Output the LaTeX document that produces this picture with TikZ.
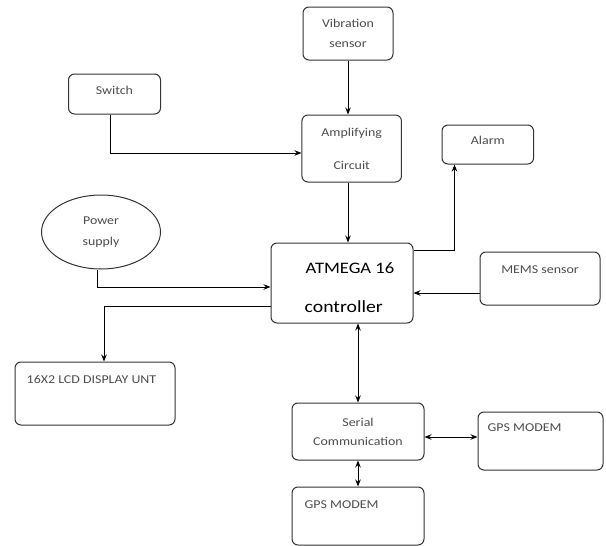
\documentclass[tikz,border=0pt]{standalone}
\usepackage{fontspec}
\setmainfont{Carlito}[FakeStretch=1.16]
\usetikzlibrary{shapes.geometric, positioning, arrows.meta, calc}

\begin{document}
\begin{tikzpicture}[
    x=1pt, y=-1pt,
    block/.style={rectangle, rounded corners=6pt, draw=black!80, line width=1pt, text=black!70, font=\fontsize{12}{20}\selectfont, align=center, inner sep=0pt},
    supply/.style={ellipse, draw=black!80, line width=1pt, text=black!70, font=\fontsize{12}{21}\selectfont, align=center, inner sep=0pt},
    toptext/.style={inner sep=0pt, text=black!70, font=\fontsize{12}{14}\selectfont},
    bigtext/.style={inner sep=0pt, text=black, font=\fontsize{16}{18}\selectfont},
    arrow/.style={line width=0.9pt, ->, >={Stealth[length=7pt, width=5.5pt]}},
    both/.style={line width=0.9pt, <->, >={Stealth[length=7pt, width=5.5pt]}},
]
\useasboundingbox (0,0) rectangle (606,546);

% Input blocks
\node[block, minimum width=90pt, minimum height=53pt] (vib) at (348,33.5) {Vibration\\sensor};
\node[block, minimum width=92pt, minimum height=40pt, text depth=8pt] (switch) at (114.5,94) {Switch};
\node[block, minimum width=99.5pt, minimum height=67pt] (amp) at (351.7,148.5) {Amplifying\\[13pt]Circuit};
\node[block, minimum width=91.6pt, minimum height=39pt, text depth=8pt] (alarm) at (487.8,144.5) {Alarm};
\node[supply, minimum width=119pt, minimum height=74pt] (power) at (101,232) {Power\\supply};

% Controller
\node[block, minimum width=142pt, minimum height=80pt,
    label={[bigtext, anchor=base west, xshift=35pt, yshift=-31pt]north west:ATMEGA 16},
    label={[bigtext, anchor=base west, xshift=34pt, yshift=-70pt, font=\fontsize{17}{20}\selectfont]north west:controller}] (ctrl) at (342,283) {};

\node[block, minimum width=120pt, minimum height=53pt,
    label={[toptext, anchor=north, yshift=-14pt]north:MEMS sensor}] (mems) at (540,278.5) {};

% Output blocks
\node[block, minimum width=160pt, minimum height=63pt,
    label={[toptext, anchor=north, xshift=-3.5pt, yshift=-14pt]north:16X2 LCD DISPLAY UNT}] (lcd) at (95,393.5) {};
\node[block, minimum width=132pt, minimum height=57pt, font=\fontsize{12}{19}\selectfont] (serial) at (358,431.5) {Serial\\Communication};
\node[block, minimum width=125pt, minimum height=58pt,
    label={[toptext, anchor=north west, xshift=10pt, yshift=-12pt]north west:GPS MODEM}] (gpsa) at (540.5,441) {};
\node[block, minimum width=132pt, minimum height=58pt,
    label={[toptext, anchor=north west, xshift=13pt, yshift=-14pt]north west:GPS MODEM}] (gpsb) at (358,516) {};

% Draw the arrows
\draw[arrow] (vib.south) -- (vib.south |- amp.north);
\draw[arrow] ([xshift=-4.5pt]switch.south) |- ([yshift=-4.5pt]amp.west);
\draw[arrow] (amp.south -| vib.south) -- (vib.south |- ctrl.north);
\draw[arrow] ([yshift=-8pt]ctrl.north east) -| ([xshift=-33.3pt]alarm.south);
\draw[arrow] ([xshift=-4pt]power.south) |- ([yshift=-4pt]ctrl.west);
\draw[arrow] ([yshift=-23pt]ctrl.west) -| ([xshift=9pt]lcd.north);
\draw[arrow] ([yshift=-14.5pt]mems.west) -- ([yshift=-14.5pt]mems.west -| ctrl.east);
\draw[both] (serial.north) -- (serial.north |- ctrl.south);
\draw[both] ([yshift=-5.5pt]serial.east) -- ([yshift=-5.5pt]serial.east -| gpsa.west);
\draw[both] (serial.south) -- (gpsb.north);

\end{tikzpicture}
\end{document}
